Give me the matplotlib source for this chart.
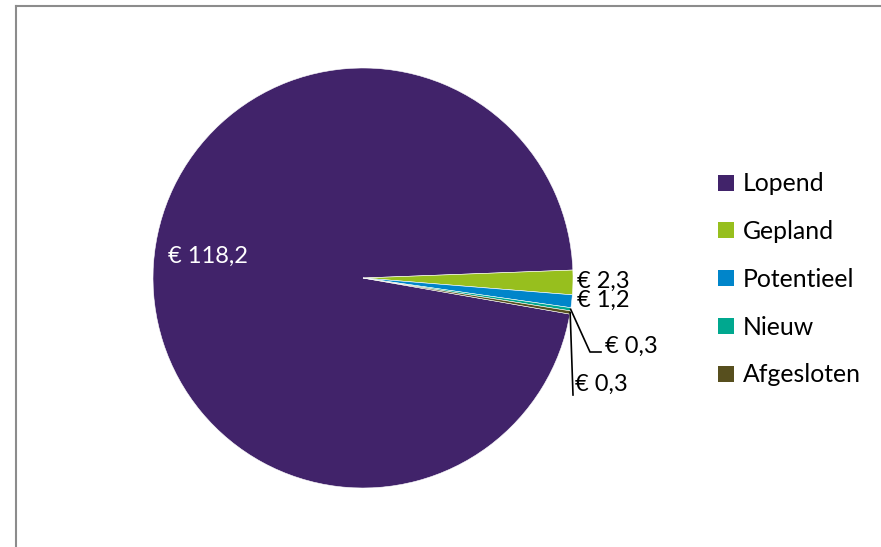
import numpy as np
import matplotlib.pyplot as plt
from matplotlib.lines import Line2D
from matplotlib.patches import Patch

plt.rcParams['font.family'] = ['Lato', 'DejaVu Sans']

# data
categories = ['Lopend', 'Gepland', 'Potentieel', 'Nieuw', 'Afgesloten']
values = [118.2, 2.3, 1.2, 0.3, 0.3]
labels = ['€ 118,2', '€ 2,3', '€ 1,2', '€ 0,3', '€ 0,3']
colors = ['#41236A', '#97BF1E', '#0085CA', '#00A88F', '#574F1E']

W, H = 881, 547
cx, cy, R = 363, 278, 210
fs = 17


def px(x, y):
    # pixel position -> data coordinates (radius = 1)
    return (x - cx) / R, (cy - y) / R


fig = plt.figure(figsize=(W / 100, H / 100), dpi=100)
ax = fig.add_axes([0, 0, 1, 1])

wedges, _ = ax.pie(values, colors=colors, startangle=350.1, counterclock=False,
                   radius=1, center=(0, 0), frame=True,
                   wedgeprops=dict(edgecolor='white', linewidth=0.4))
ax.set_xlim(-cx / R, (W - cx) / R)
ax.set_ylim((cy - H) / R, cy / R)
ax.set_aspect('equal')
ax.axis('off')

# label for the big slice (inside, white)
ax.text(*px(168, 256), labels[0], color='white', fontsize=fs, va='center', ha='left')

# small slices, outside labels
ax.text(*px(577, 281), labels[1], fontsize=fs, va='center', ha='left')
ax.text(*px(577, 300), labels[2], fontsize=fs, va='center', ha='left')
ax.text(*px(605, 346), labels[3], fontsize=fs, va='center', ha='left')
ax.text(*px(575, 384), labels[4], fontsize=fs, va='center', ha='left')


# leader lines from the edge of the thin slices
def edge_point(w):
    a = np.deg2rad((w.theta1 + w.theta2) / 2)
    return np.cos(a), np.sin(a)


x0, y0 = edge_point(wedges[3])
p1, p2 = px(590, 352), px(601, 352)
ax.plot([x0, p1[0], p2[0]], [y0, p1[1], p2[1]], color='black', lw=1.2)
x0, y0 = edge_point(wedges[4])
p1 = px(573, 395)
ax.plot([x0, p1[0]], [y0, p1[1]], color='black', lw=1.2)

# legend
handles = [Patch(facecolor=c, edgecolor='none') for c in colors]
fig.legend(handles, categories, loc='upper left', bbox_to_anchor=(706 / W, 1 - 160 / H),
           frameon=False, fontsize=17.8, handlelength=0.62, handleheight=0.62,
           handletextpad=0.36, labelspacing=1.0, borderpad=0)

# chart area border (top and left visible)
fig.add_artist(Line2D([15.5 / W, 1], [1 - 5.5 / H] * 2, color='#8C8C8C', lw=1.5))
fig.add_artist(Line2D([15.5 / W] * 2, [0, 1 - 5.5 / H], color='#8C8C8C', lw=1.5))

fig.savefig('out.png', dpi=100, facecolor='white')
